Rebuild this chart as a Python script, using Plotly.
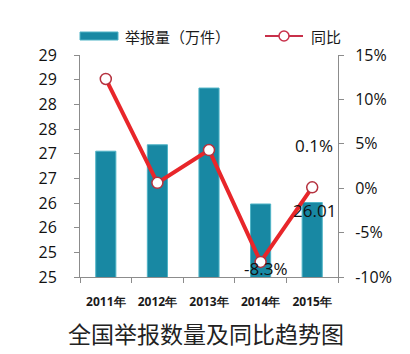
import plotly.graph_objects as go

# ---- data ----
years = ["2011年", "2012年", "2013年", "2014年", "2015年"]
reports = [27.05, 27.18, 28.33, 25.98, 26.01]      # 举报量（万件）
yoy = [12.3, 0.6, 4.3, -8.3, 0.1]                  # 同比 (%)
left_ticks = [24.5, 25, 25.5, 26, 26.5, 27, 27.5, 28, 28.5, 29]
right_ticks = [-10, -5, 0, 5, 10, 15]

W, H = 410, 354
L, R, T, B = 80, 338, 55, 277   # plot area in pixels

def px(x):
    return (x - L) / (R - L)

def py(y):
    return (B - y) / (B - T)

bar_color = "#1888a3"
line_color = "#e8262a"
tick_font = dict(family="Open Sans, Liberation Sans, sans-serif", size=16, color="#111111")
label_font = dict(family="Open Sans, Liberation Sans, sans-serif", size=17, color="#111111")
axis_col = "#8c8c8c"

fig = go.Figure()
fig.add_trace(go.Bar(
    x=years, y=reports, width=0.39,
    marker=dict(color=bar_color, line=dict(color="#4fb3c6", width=1)),
    showlegend=False, yaxis="y",
))
fig.add_trace(go.Scatter(
    x=years, y=yoy, mode="lines+markers", yaxis="y2",
    line=dict(color=line_color, width=4),
    marker=dict(symbol="circle", size=11, color="white",
                line=dict(color="#b5323f", width=1.5)),
    showlegend=False,
))

annotations = [
    # data labels (as placed in the original)
    dict(x=years[4], y=yoy[4], xref="x", yref="y2", text=f"{yoy[4]:.1f}%",
         showarrow=False, xshift=2, yshift=42, font=label_font),
    dict(x=years[4], y=reports[4], xref="x", yref="y", text=f"{reports[4]:.2f}",
         showarrow=False, xshift=2, yshift=-8, font=label_font),
    dict(x=years[3], y=yoy[3], xref="x", yref="y2", text=f"{yoy[3]:.1f}%",
         showarrow=False, xshift=5, yshift=-7, font=label_font),
    # legend texts
    dict(x=px(123), y=py(36), xref="paper", yref="paper", xanchor="left", yanchor="middle",
         text="举报量（万件）", showarrow=False,
         font=dict(family="Noto Sans CJK SC", size=15, color="#1a1a1a")),
    dict(x=px(309), y=py(36), xref="paper", yref="paper", xanchor="left", yanchor="middle",
         text="同比", showarrow=False,
         font=dict(family="Noto Sans CJK SC", size=15, color="#1a1a1a")),
    # title
    dict(x=px(206), y=py(333), xref="paper", yref="paper", xanchor="center", yanchor="middle",
         text="全国举报数量及同比趋势图", showarrow=False,
         font=dict(family="Noto Sans CJK SC", size=23, color="#222222")),
]

shapes = [
    dict(type="rect", xref="paper", yref="paper",
         x0=px(80), x1=px(118), y0=py(40), y1=py(32),
         fillcolor=bar_color, line=dict(color="#4fb3c6", width=1)),
    dict(type="line", xref="paper", yref="paper",
         x0=px(265), x1=px(303), y0=py(36), y1=py(36),
         line=dict(color="#c8304a", width=2)),
    dict(type="circle", xref="paper", yref="paper",
         x0=px(279), x1=px(289), y0=py(41), y1=py(31),
         fillcolor="white", line=dict(color="#c8304a", width=1.5)),
]

fig.update_layout(
    width=W, height=H,
    margin=dict(l=L, r=W - R, t=T, b=H - B, pad=0),
    paper_bgcolor="white", plot_bgcolor="white",
    bargap=0.6,
    xaxis=dict(
        type="category", showgrid=False, showline=True, linecolor=axis_col, linewidth=1,
        ticks="outside", ticklen=5, tickcolor=axis_col, tickson="boundaries",
        tickfont=dict(family="Open Sans, sans-serif", size=12, color="#1a1a1a", weight="bold"),
        ticklabelstandoff=14,
    ),
    yaxis=dict(
        range=[24.5, 29], tickvals=left_ticks,
        ticktext=[str(int(v + 0.5)) if v % 1 else str(int(v)) for v in left_ticks],
        showgrid=False, zeroline=False, showline=True, linecolor=axis_col, linewidth=1,
        ticks="outside", ticklen=5, tickcolor=axis_col, tickfont=tick_font,
        ticklabelstandoff=14,
    ),
    yaxis2=dict(
        range=[-10, 15], tickvals=right_ticks, ticktext=[f"{v}%" for v in right_ticks],
        overlaying="y", side="right",
        showgrid=False, zeroline=False, showline=True, linecolor=axis_col, linewidth=1,
        ticks="outside", ticklen=5, tickcolor=axis_col, tickfont=tick_font,
        ticklabelstandoff=8,
    ),
    annotations=annotations, shapes=shapes,
)

fig.write_html("out.html")
